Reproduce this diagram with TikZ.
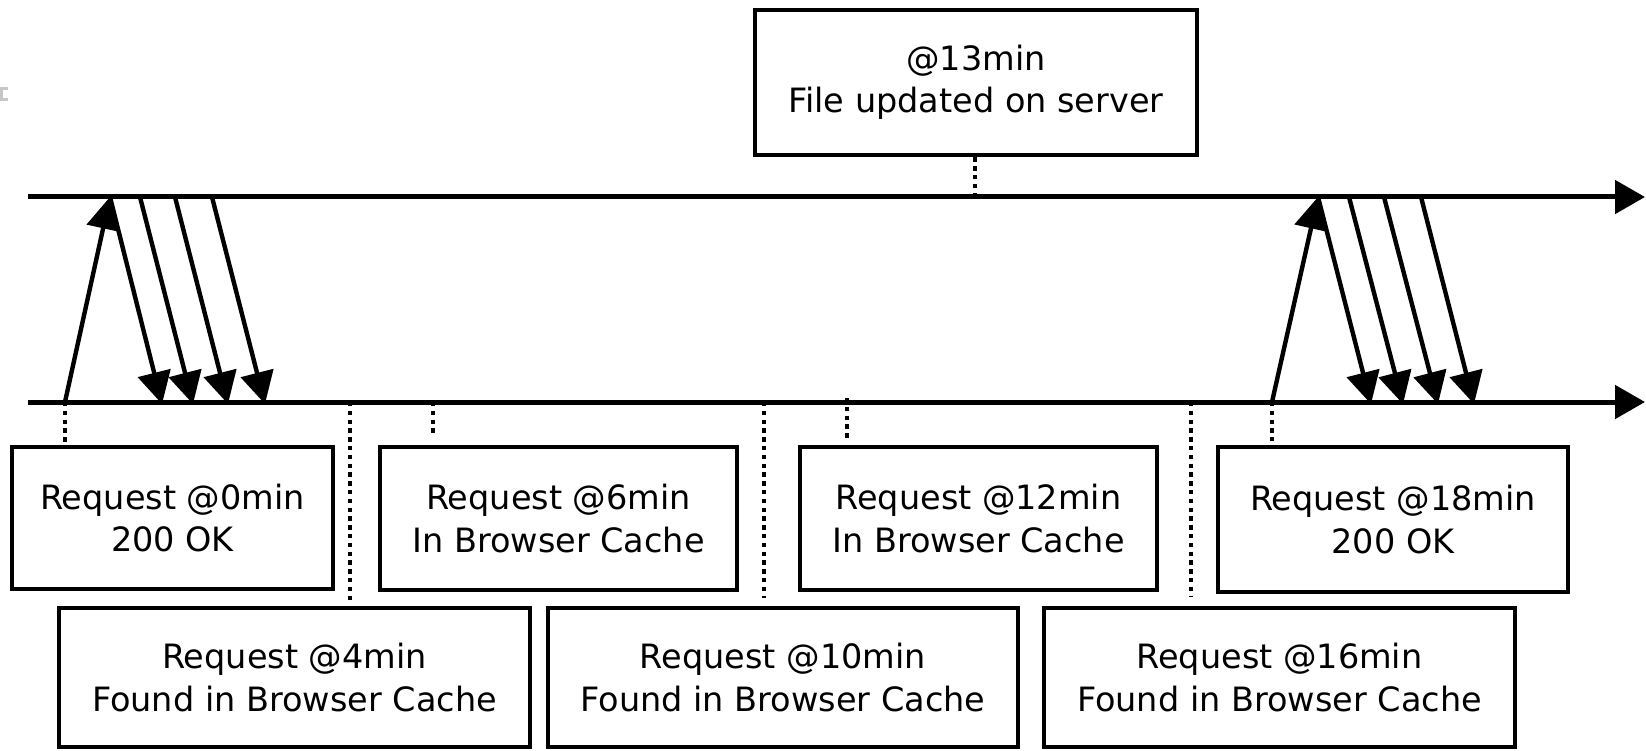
\documentclass[tikz,border=0pt]{standalone}
\usepackage{fontspec}
\setmainfont{DejaVu Sans}
\usetikzlibrary{arrows.meta,calc}
\begin{document}
\begin{tikzpicture}[x=1pt,y=-1pt,
  evbox/.style={draw, line width=4.6pt, rectangle, inner sep=0pt, align=center,
    font=\fontsize{33.5}{42.5}\selectfont},
  axisline/.style={line width=5pt, -{Triangle[length=30pt,width=33pt]}},
  msg/.style={line width=4.4pt, -{Triangle[length=32pt,width=33pt]}},
  dotline/.style={line width=4.6pt, dash pattern=on 4.3pt off 4.5pt}
]
\useasboundingbox (0,0) rectangle (1646,751);
% small grey mark at the left edge
\draw[gray!45, line width=3pt] (8,88.5) -- (1.5,88.5) -- (1.5,99.5) -- (8,99.5);

% time lines
\coordinate (s0) at (28,197);
\coordinate (s1) at (1645,197);
\coordinate (c0) at (28,402);
\coordinate (c1) at (1645,402);
\draw[axisline] (s0) -- (s1);
\draw[axisline] (c0) -- (c1);

% boxes
\node[evbox, minimum width=442pt, minimum height=145pt] (b13) at (976,82.5) {@13min\\File updated on server};
\node[evbox, minimum width=321pt, minimum height=142pt] (b0) at (172.5,518) {Request @0min\\200 OK};
\node[evbox, minimum width=357pt, minimum height=143pt] (b6) at (558.5,518.5) {Request @6min\\In Browser Cache};
\node[evbox, minimum width=357pt, minimum height=143pt] (b12) at (978.5,518.5) {Request @12min\\In Browser Cache};
\node[evbox, minimum width=350pt, minimum height=145pt] (b18) at (1393,519.5) {Request @18min\\200 OK};
\node[evbox, minimum width=471pt, minimum height=139pt] (b4) at (294.5,677.5) {Request @4min\\Found in Browser Cache};
\node[evbox, minimum width=470pt, minimum height=139pt] (b10) at (783,677.5) {Request @10min\\Found in Browser Cache};
\node[evbox, minimum width=471pt, minimum height=139pt] (b16) at (1279.5,677.5) {Request @16min\\Found in Browser Cache};

% points on the time lines
\coordinate (u1) at (975,197);
\coordinate (d0) at (65,402);
\coordinate (d4) at (350,402);
\coordinate (d6) at (433,402);
\coordinate (d10) at (764,402);
\coordinate (d12) at (847,398);
\coordinate (d16) at (1191,402);
\coordinate (d18) at (1272,402);

% dotted markers
\draw[dotline] (u1) -- (u1 |- b13.south);
\draw[dotline] (d0) -- (d0 |- b0.north);
\draw[dotline] (d4) -- ($(d4 |- b4.north)+(0,-5)$);
\draw[dotline] (d6) -- ($(d6 |- b6.north)+(0,-12)$);
\draw[dotline] (d10) -- ($(d10 |- b10.north)+(0,-8)$);
\draw[dotline] (d12) -- ($(d12 |- b12.north)+(0,-5)$);
\draw[dotline] (d16) -- ($(d16 |- b16.north)+(0,-9)$);
\draw[dotline] (d18) -- ($(d18 |- b18.north)+(0,-4)$);

% first exchange (t = 0 .. 6)
\coordinate (a0) at (110,197);
\coordinate (a1) at (140,197);
\coordinate (a2) at (175,197);
\coordinate (a3) at (212,197);
\coordinate (e0) at (162,404);
\coordinate (e1) at (193,404);
\coordinate (e2) at (228,404);
\coordinate (e3) at (265,404);
\draw[msg] (d0) -- (a0);
\draw[msg] (a0) -- (e0);
\draw[msg] (a1) -- (e1);
\draw[msg] (a2) -- (e2);
\draw[msg] (a3) -- (e3);

% second exchange (t = 18 ..)
\coordinate (f0) at (1318,197);
\coordinate (f1) at (1349,197);
\coordinate (f2) at (1384,197);
\coordinate (f3) at (1421,197);
\coordinate (g0) at (1371,404);
\coordinate (g1) at (1403,404);
\coordinate (g2) at (1438,404);
\coordinate (g3) at (1474,404);
\draw[msg] (d18) -- (f0);
\draw[msg] (f0) -- (g0);
\draw[msg] (f1) -- (g1);
\draw[msg] (f2) -- (g2);
\draw[msg] (f3) -- (g3);
\end{tikzpicture}
\end{document}
